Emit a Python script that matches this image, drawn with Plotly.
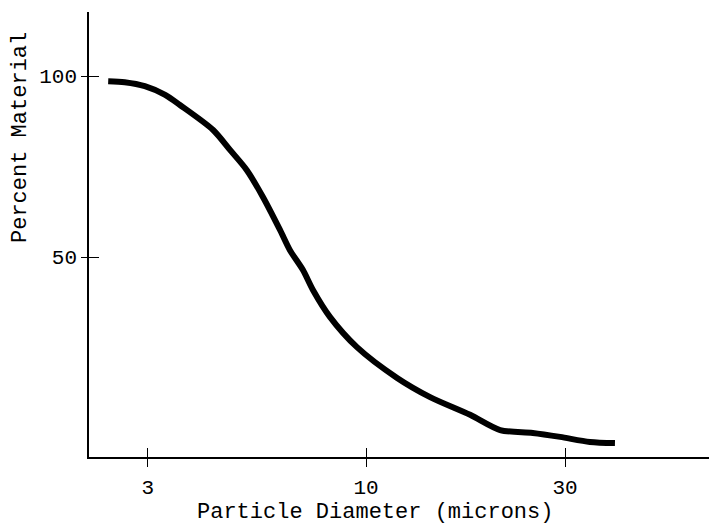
import plotly.graph_objects as go

diameter = [2.41, 2.64, 2.95, 3.30, 3.58, 4.30, 4.72, 5.18, 5.66, 6.22, 6.57, 7.06,
            7.46, 8.20, 9.51, 11.87, 14.24, 17.76, 20.96, 25.1, 29.2, 34.4, 39.5]
percent = [98.6, 98.3, 97.2, 94.8, 92.0, 85.1, 79.6, 74.0, 66.6, 57.5, 51.9, 46.4,
           40.9, 33.4, 25.1, 16.6, 11.3, 6.4, 2.2, 1.4, 0.3, -1.1, -1.4]

x_ticks = [3, 10, 30]
x_tick_labels = ["3", "10", "30"]
y_ticks = [50, 100]
y_tick_labels = ["50", "100"]

FONT = "Liberation Mono, Courier New, monospace"

fig = go.Figure()
fig.add_trace(go.Scatter(x=diameter, y=percent, mode="lines",
                         line=dict(color="black", width=6, shape="spline", smoothing=0.8),
                         showlegend=False, hoverinfo="skip"))

xr = [0.336, 1.822]
yr = [-5.25, 117.7]

fig.update_layout(
    width=709, height=527,
    margin=dict(l=89, r=0, t=12, b=70),
    paper_bgcolor="white", plot_bgcolor="white",
    font=dict(family=FONT, size=21, color="black"),
    xaxis=dict(type="log", range=xr, showgrid=False, zeroline=False,
               showline=True, linecolor="black", linewidth=1.5,
               ticks="outside", ticklen=8, tickwidth=1.3, tickcolor="black",
               tickvals=x_ticks, ticktext=x_tick_labels, ticklabelstandoff=2,
               tickfont=dict(family=FONT, size=21)),
    xaxis2=dict(type="log", range=xr, overlaying="x", matches="x", showgrid=False,
                zeroline=False, showline=False, ticks="inside", ticklen=9,
                tickwidth=1.3, tickcolor="black", tickvals=x_ticks,
                showticklabels=False, side="bottom", anchor="y2"),
    yaxis=dict(range=yr, showgrid=False, zeroline=False,
               showline=True, linecolor="black", linewidth=1.5,
               ticks="outside", ticklen=6, tickwidth=1.3, tickcolor="black",
               tickvals=y_ticks, ticktext=y_tick_labels, ticklabelstandoff=0,
               tickfont=dict(family=FONT, size=21)),
    yaxis2=dict(range=yr, overlaying="y", matches="y", showgrid=False,
                zeroline=False, showline=False, ticks="inside", ticklen=10,
                tickwidth=1.3, tickcolor="black", tickvals=y_ticks,
                showticklabels=False, anchor="x2"),
    annotations=[
        dict(text="Particle Diameter (microns)", xref="paper", yref="paper",
             x=(375 - 89) / 620, y=-(512 - 457) / 445, showarrow=False,
             xanchor="center", yanchor="middle", font=dict(family=FONT, size=22)),
        dict(text="Percent Material", xref="paper", yref="paper",
             x=-(89 - 20) / 620, y=(457 - 138) / 445, showarrow=False, textangle=-90,
             xanchor="center", yanchor="middle", font=dict(family=FONT, size=22)),
    ],
)
# invisible trace to activate the overlay axes for crossing ticks
fig.add_trace(go.Scatter(x=[diameter[0]], y=[percent[0]], xaxis="x2", yaxis="y2",
                         mode="markers", marker=dict(opacity=0), showlegend=False,
                         hoverinfo="skip"))

fig.write_html("out.html")
